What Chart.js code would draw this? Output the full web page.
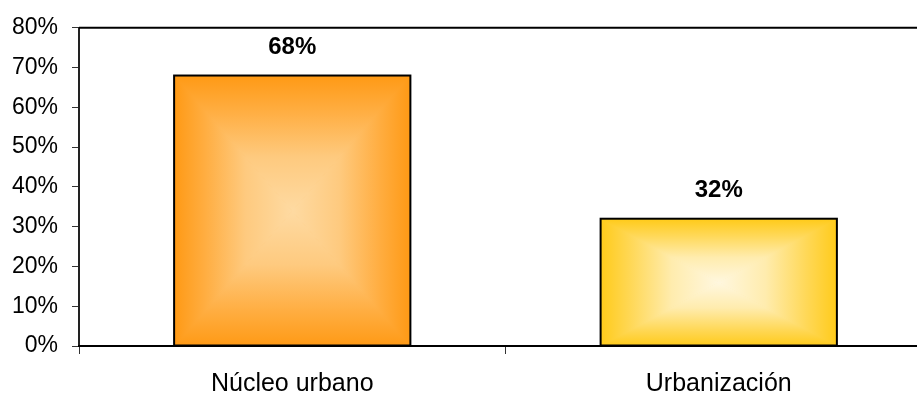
<!DOCTYPE html>
<html>
<head>
<meta charset="utf-8">
<script src="https://cdn.jsdelivr.net/npm/chart.js@4"></script>
<style>
html, body { margin: 0; padding: 0; background: #fff; overflow: hidden; }
#wrap { width: 932px; height: 394px; }
</style>
</head>
<body>
<div id="wrap"><canvas id="grafica"></canvas></div>
<script>
const categorias = ["Núcleo urbano", "Urbanización"];
const porcentajes = [68, 32];
const bordes = ["#ff9a16", "#ffcb1c"];
const centros = ["#fedaa2", "#fff7df"];

// relleno tipo "rectangulo desde el centro": cuatro triangulos con degradado lineal
function rellenoCentro(ctx, l, t, r, b, borde, centro) {
  const cx = (l + r) / 2, cy = (t + b) / 2;
  const paradas = (g) => {
    g.addColorStop(0, borde);
    g.addColorStop(0.25, mezcla(borde, centro, 0.3));
    g.addColorStop(0.6, mezcla(borde, centro, 0.75));
    g.addColorStop(1, centro);
    return g;
  };
  const tri = (pts, g) => {
    ctx.beginPath();
    ctx.moveTo(pts[0], pts[1]);
    ctx.lineTo(pts[2], pts[3]);
    ctx.lineTo(cx, cy);
    ctx.closePath();
    ctx.fillStyle = g;
    ctx.strokeStyle = g;
    ctx.lineWidth = 1;
    ctx.fill();
    ctx.stroke();
  };
  ctx.save();
  ctx.beginPath();
  ctx.rect(l, t, r - l, b - t);
  ctx.clip();
  tri([l, t, r, t], paradas(ctx.createLinearGradient(0, t, 0, cy)));
  tri([l, b, r, b], paradas(ctx.createLinearGradient(0, b, 0, cy)));
  tri([l, t, l, b], paradas(ctx.createLinearGradient(l, 0, cx, 0)));
  tri([r, t, r, b], paradas(ctx.createLinearGradient(r, 0, cx, 0)));
  ctx.restore();
}

function mezcla(a, b, f) {
  const p = (h) => [1, 3, 5].map(i => parseInt(h.substr(i, 2), 16));
  const ca = p(a), cb = p(b);
  return "rgb(" + ca.map((v, i) => Math.round(v + (cb[i] - v) * f)).join(",") + ")";
}

const barrasDegradado = {
  id: "barrasDegradado",
  afterDatasetsDraw(chart) {
    const ctx = chart.ctx;
    const meta = chart.getDatasetMeta(0);
    ctx.save();
    meta.data.forEach((bar, i) => {
      const l = bar.x - bar.width / 2, r = bar.x + bar.width / 2;
      const t = bar.y, b = bar.base;
      rellenoCentro(ctx, l + 1, t + 1, r - 1, b, bordes[i], centros[i]);
      ctx.strokeStyle = "#000";
      ctx.lineWidth = 2;
      ctx.strokeRect(l, t, r - l, b - t);
      ctx.fillStyle = "#000";
      ctx.font = "bold 24px 'Liberation Sans', Arial, sans-serif";
      ctx.textAlign = "center";
      ctx.textBaseline = "middle";
      ctx.fillText(porcentajes[i] + "%", bar.x, t - 28);
    });
    // linea superior del area de trazado
    const a = chart.chartArea;
    ctx.beginPath();
    ctx.moveTo(a.left, a.top);
    ctx.lineTo(a.right, a.top);
    ctx.strokeStyle = "#000";
    ctx.lineWidth = 2;
    ctx.stroke();
    ctx.restore();
  }
};

new Chart(document.getElementById("grafica"), {
  type: "bar",
  data: {
    labels: categorias,
    datasets: [{
      data: porcentajes,
      backgroundColor: bordes,
      borderColor: "#000",
      borderWidth: 0,
      categoryPercentage: 0.554,
      barPercentage: 1
    }]
  },
  options: {
    responsive: true,
    maintainAspectRatio: false,
    animation: false,
    layout: { padding: { top: 26, right: 0, left: 0, bottom: 0 } },
    plugins: { legend: { display: false }, tooltip: { enabled: false } },
    scales: {
      y: {
        min: 0,
        max: 80,
        afterFit: (s) => { s.width = 79; },
        ticks: {
          stepSize: 10,
          padding: 14,
          color: "#000",
          font: { family: "'Liberation Sans', Arial, sans-serif", size: 23 },
          callback: (v) => v + "%"
        },
        grid: { drawOnChartArea: false, tickLength: 7, color: "#333" },
        border: { color: "#222", width: 2 }
      },
      x: {
        afterFit: (s) => { s.height = 48; },
        ticks: {
          padding: 15,
          color: "#000",
          font: { family: "'Liberation Sans', Arial, sans-serif", size: 25 }
        },
        grid: { offset: true, drawOnChartArea: false, tickLength: 8, color: "#333" },
        border: { color: "#000", width: 2 }
      }
    }
  },
  plugins: [barrasDegradado]
});
</script>
</body>
</html>
